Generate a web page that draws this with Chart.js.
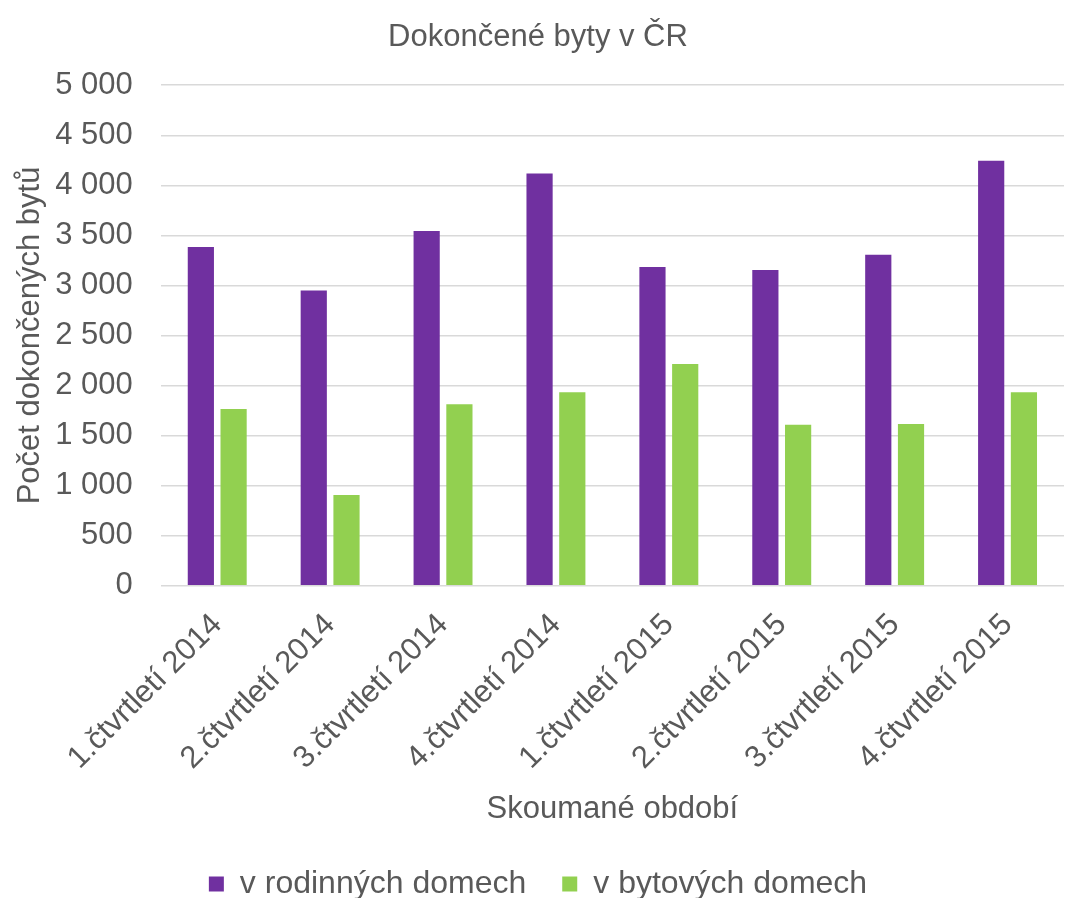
<!DOCTYPE html>
<html lang="cs">
<head>
  <meta charset="UTF-8">
  <title>Dokončené byty v ČR</title>
  <script src="https://cdn.jsdelivr.net/npm/chart.js"></script>
  <style>
    body {
      margin: 0;
      background: #fff;
    }
    #wrap {
      width: 1068px;
      height: 898px;
    }
  </style>
</head>
<body>
  <div id="wrap"><canvas id="bytyChart"></canvas></div>

  <script>
    // Data
    const quarters = [
      '1.čtvrtletí 2014', '2.čtvrtletí 2014', '3.čtvrtletí 2014', '4.čtvrtletí 2014',
      '1.čtvrtletí 2015', '2.čtvrtletí 2015', '3.čtvrtletí 2015', '4.čtvrtletí 2015'
    ];
    const rodinneDomy = [3383, 2950, 3543, 4118, 3184, 3154, 3306, 4246];
    const bytoveDomy = [1766, 906, 1814, 1933, 2214, 1607, 1615, 1933];

    const textColor = '#595959';
    const fontFamily = '"Liberation Sans", Arial, sans-serif';

    // thousands with a plain space: 5 000
    function fmt(v) {
      return String(v).replace(/\B(?=(\d{3})+(?!\d))/g, ' ');
    }

    const ctx = document.getElementById('bytyChart').getContext('2d');
    new Chart(ctx, {
      type: 'bar',
      data: {
        labels: quarters,
        datasets: [
          {
            label: 'v rodinných domech',
            data: rodinneDomy,
            backgroundColor: '#7030a0',
            barPercentage: 0.8,
            categoryPercentage: 0.58
          },
          {
            label: 'v bytových domech',
            data: bytoveDomy,
            backgroundColor: '#92d050',
            barPercentage: 0.8,
            categoryPercentage: 0.58
          }
        ]
      },
      options: {
        responsive: true,
        maintainAspectRatio: false,
        animation: false,
        layout: { padding: { left: 12, right: 4, top: 4, bottom: -12 } },
        plugins: {
          title: {
            display: true,
            text: 'Dokončené byty v ČR',
            color: textColor,
            font: { family: fontFamily, size: 31, weight: 'normal' },
            padding: { top: 15, bottom: 29 }
          },
          legend: {
            position: 'bottom',
            labels: {
              color: textColor,
              font: { family: fontFamily, size: 32 },
              boxWidth: 15,
              boxHeight: 15,
              padding: 36
            }
          },
          tooltip: { enabled: false }
        },
        scales: {
          x: {
            grid: { display: false },
            border: { display: false },
            ticks: {
              color: textColor,
              font: { family: fontFamily, size: 31 },
              maxRotation: 45,
              minRotation: 45,
              padding: 13
            },
            title: {
              display: true,
              text: 'Skoumané období',
              color: textColor,
              font: { family: fontFamily, size: 31 },
              padding: { top: 1, bottom: 4 }
            }
          },
          y: {
            min: 0,
            max: 5000,
            grid: { color: '#d9d9d9', lineWidth: 1.5, drawTicks: true, tickLength: 22, tickColor: '#ffffff' },
            border: { display: false },
            ticks: {
              stepSize: 500,
              color: textColor,
              font: { family: fontFamily, size: 31 },
              padding: 6,
              callback: v => fmt(v)
            },
            title: {
              display: true,
              text: 'Počet dokončených bytů',
              color: textColor,
              font: { family: fontFamily, size: 31 },
              padding: { top: 0, bottom: 0 }
            }
          }
        }
      }
    });
  </script>
</body>
</html>
